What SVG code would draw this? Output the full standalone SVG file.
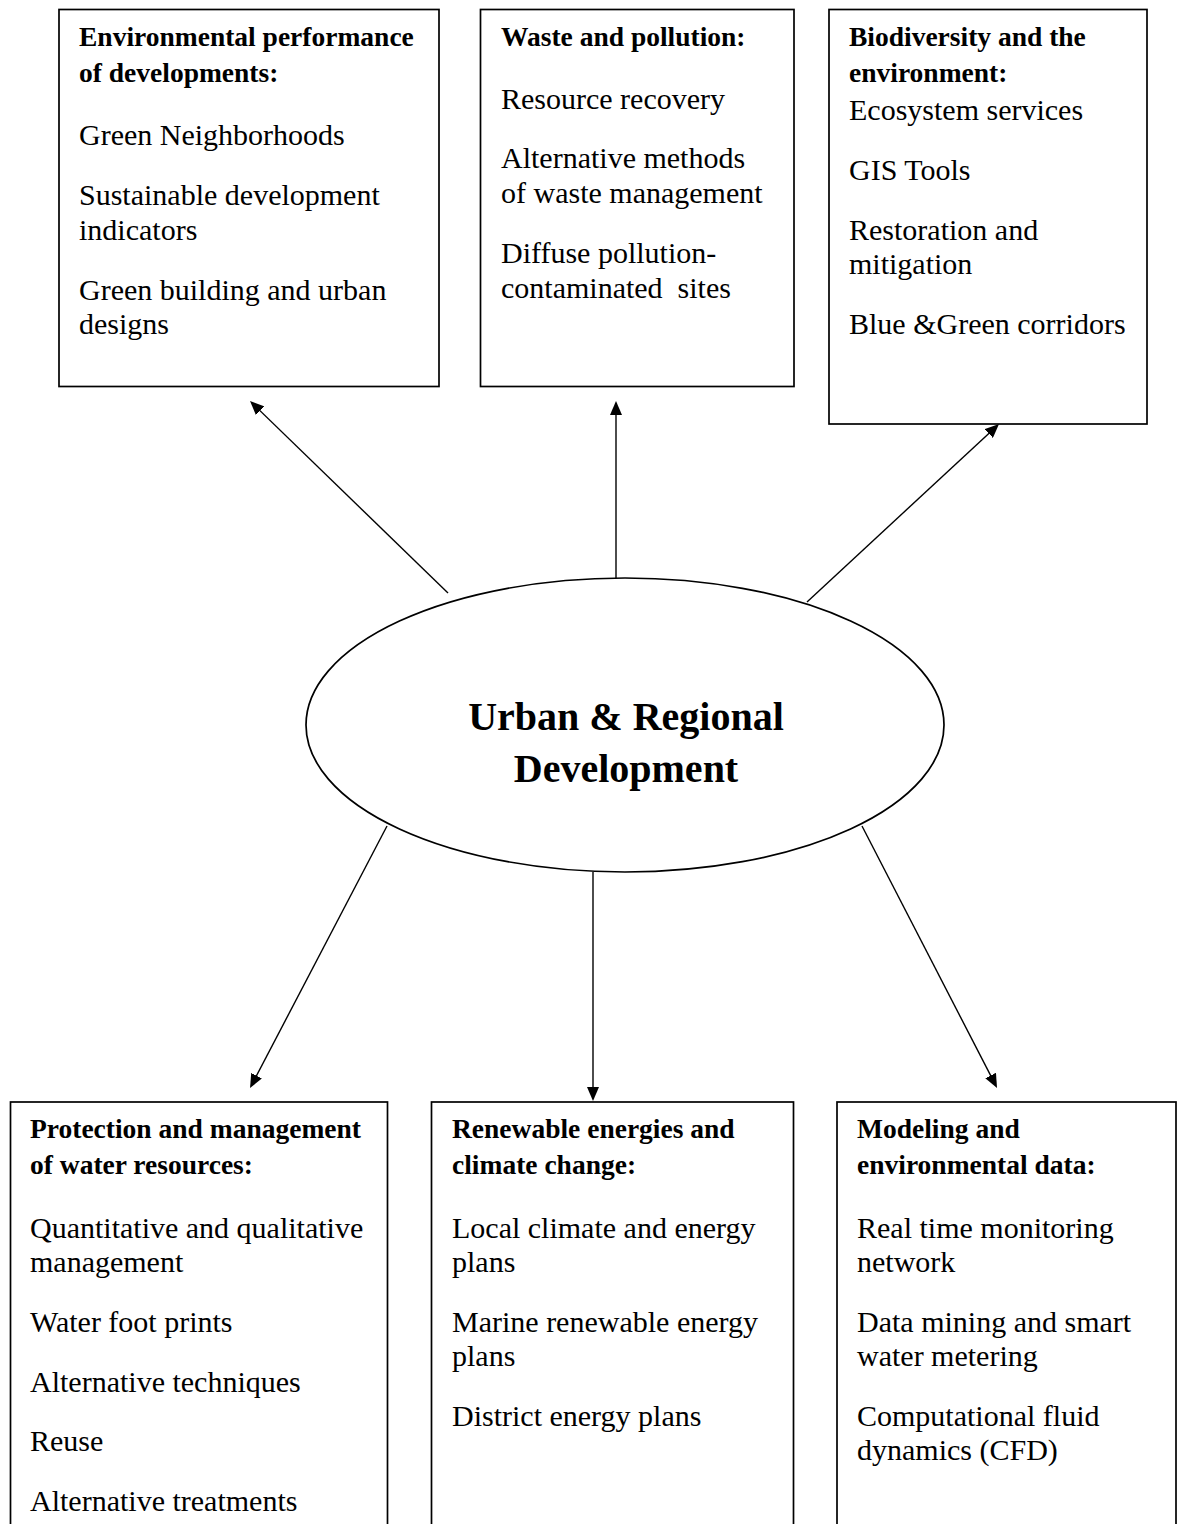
<svg xmlns="http://www.w3.org/2000/svg" width="1177" height="1524" viewBox="0 0 1177 1524">
<style>
  .box { fill: #ffffff; stroke: #000000; stroke-width: 1.7; }
  .ell { fill: #ffffff; stroke: #000000; stroke-width: 1.7; }
  .t { font-family: "Liberation Serif", "Times New Roman", serif; font-size: 30px; fill: #000000; }
  .h { font-family: "Liberation Serif", "Times New Roman", serif; font-size: 27.5px; font-weight: bold; fill: #000000; }
  .c { font-family: "Liberation Serif", "Times New Roman", serif; font-size: 40px; font-weight: bold; fill: #000000; text-anchor: middle; }
  .conn line { stroke: #000000; stroke-width: 1.4; fill: none; marker-end: url(#arrow); }
</style>
<defs>
  <marker id="arrow" markerUnits="userSpaceOnUse" markerWidth="14" markerHeight="12" refX="10" refY="6" orient="auto">
    <path d="M0,0 L14,6 L0,12 z" fill="#000000"/>
  </marker>
</defs>
<rect width="1177" height="1524" fill="#ffffff"/>

<g id="connectors" class="conn">
  <line x1="448" y1="593" x2="252.9" y2="403.8"/>
  <line x1="616" y1="578" x2="616" y2="405"/>
  <line x1="807" y1="602" x2="996.1" y2="426.7"/>
  <line x1="387" y1="826" x2="251.9" y2="1084.5"/>
  <line x1="593" y1="872" x2="593" y2="1097"/>
  <line x1="862" y1="826" x2="995.2" y2="1084.4"/>
</g>

<g id="node-center">
  <ellipse class="ell" cx="625" cy="725" rx="319" ry="147"/>
  <text class="c" x="626" y="730">Urban &amp; Regional</text>
  <text class="c" x="626" y="782">Development</text>
</g>

<g id="node-env-performance">
  <rect class="box" x="59" y="9.5" width="380" height="377"/>
  <text class="h" x="79" y="46">Environmental performance</text>
  <text class="h" x="79" y="82">of developments:</text>
  <text class="t" x="79" y="145">Green Neighborhoods</text>
  <text class="t" x="79" y="205">Sustainable development</text>
  <text class="t" x="79" y="240">indicators</text>
  <text class="t" x="79" y="300">Green building and urban</text>
  <text class="t" x="79" y="334">designs</text>
</g>

<g id="node-waste">
  <rect class="box" x="480.5" y="9.5" width="313.5" height="377"/>
  <text class="h" x="501" y="46">Waste and pollution:</text>
  <text class="t" x="501" y="109">Resource recovery</text>
  <text class="t" x="501" y="168">Alternative methods</text>
  <text class="t" x="501" y="203">of waste management</text>
  <text class="t" x="501" y="263">Diffuse pollution-</text>
  <text class="t" x="501" y="298" xml:space="preserve">contaminated  sites</text>
</g>

<g id="node-biodiversity">
  <rect class="box" x="829" y="9.5" width="318" height="414.5"/>
  <text class="h" x="849" y="46">Biodiversity and the</text>
  <text class="h" x="849" y="82">environment:</text>
  <text class="t" x="849" y="120">Ecosystem services</text>
  <text class="t" x="849" y="180">GIS Tools</text>
  <text class="t" x="849" y="240">Restoration and</text>
  <text class="t" x="849" y="274">mitigation</text>
  <text class="t" x="849" y="334">Blue &amp;Green corridors</text>
</g>

<g id="node-water">
  <rect class="box" x="10.5" y="1102" width="377" height="500"/>
  <text class="h" x="30" y="1138">Protection and management</text>
  <text class="h" x="30" y="1174">of water resources:</text>
  <text class="t" x="30" y="1238">Quantitative and qualitative</text>
  <text class="t" x="30" y="1272">management</text>
  <text class="t" x="30" y="1332">Water foot prints</text>
  <text class="t" x="30" y="1392">Alternative techniques</text>
  <text class="t" x="30" y="1451">Reuse</text>
  <text class="t" x="30" y="1511">Alternative treatments</text>
</g>

<g id="node-renewable">
  <rect class="box" x="431.5" y="1102" width="362" height="500"/>
  <text class="h" x="452" y="1138">Renewable energies and</text>
  <text class="h" x="452" y="1174">climate change:</text>
  <text class="t" x="452" y="1238">Local climate and energy</text>
  <text class="t" x="452" y="1272">plans</text>
  <text class="t" x="452" y="1332">Marine renewable energy</text>
  <text class="t" x="452" y="1366">plans</text>
  <text class="t" x="452" y="1426">District energy plans</text>
</g>

<g id="node-modeling">
  <rect class="box" x="837" y="1102" width="339" height="500"/>
  <text class="h" x="857" y="1138">Modeling and</text>
  <text class="h" x="857" y="1174">environmental data:</text>
  <text class="t" x="857" y="1238">Real time monitoring</text>
  <text class="t" x="857" y="1272">network</text>
  <text class="t" x="857" y="1332">Data mining and smart</text>
  <text class="t" x="857" y="1366">water metering</text>
  <text class="t" x="857" y="1426">Computational fluid</text>
  <text class="t" x="857" y="1460">dynamics (CFD)</text>
</g>
</svg>
